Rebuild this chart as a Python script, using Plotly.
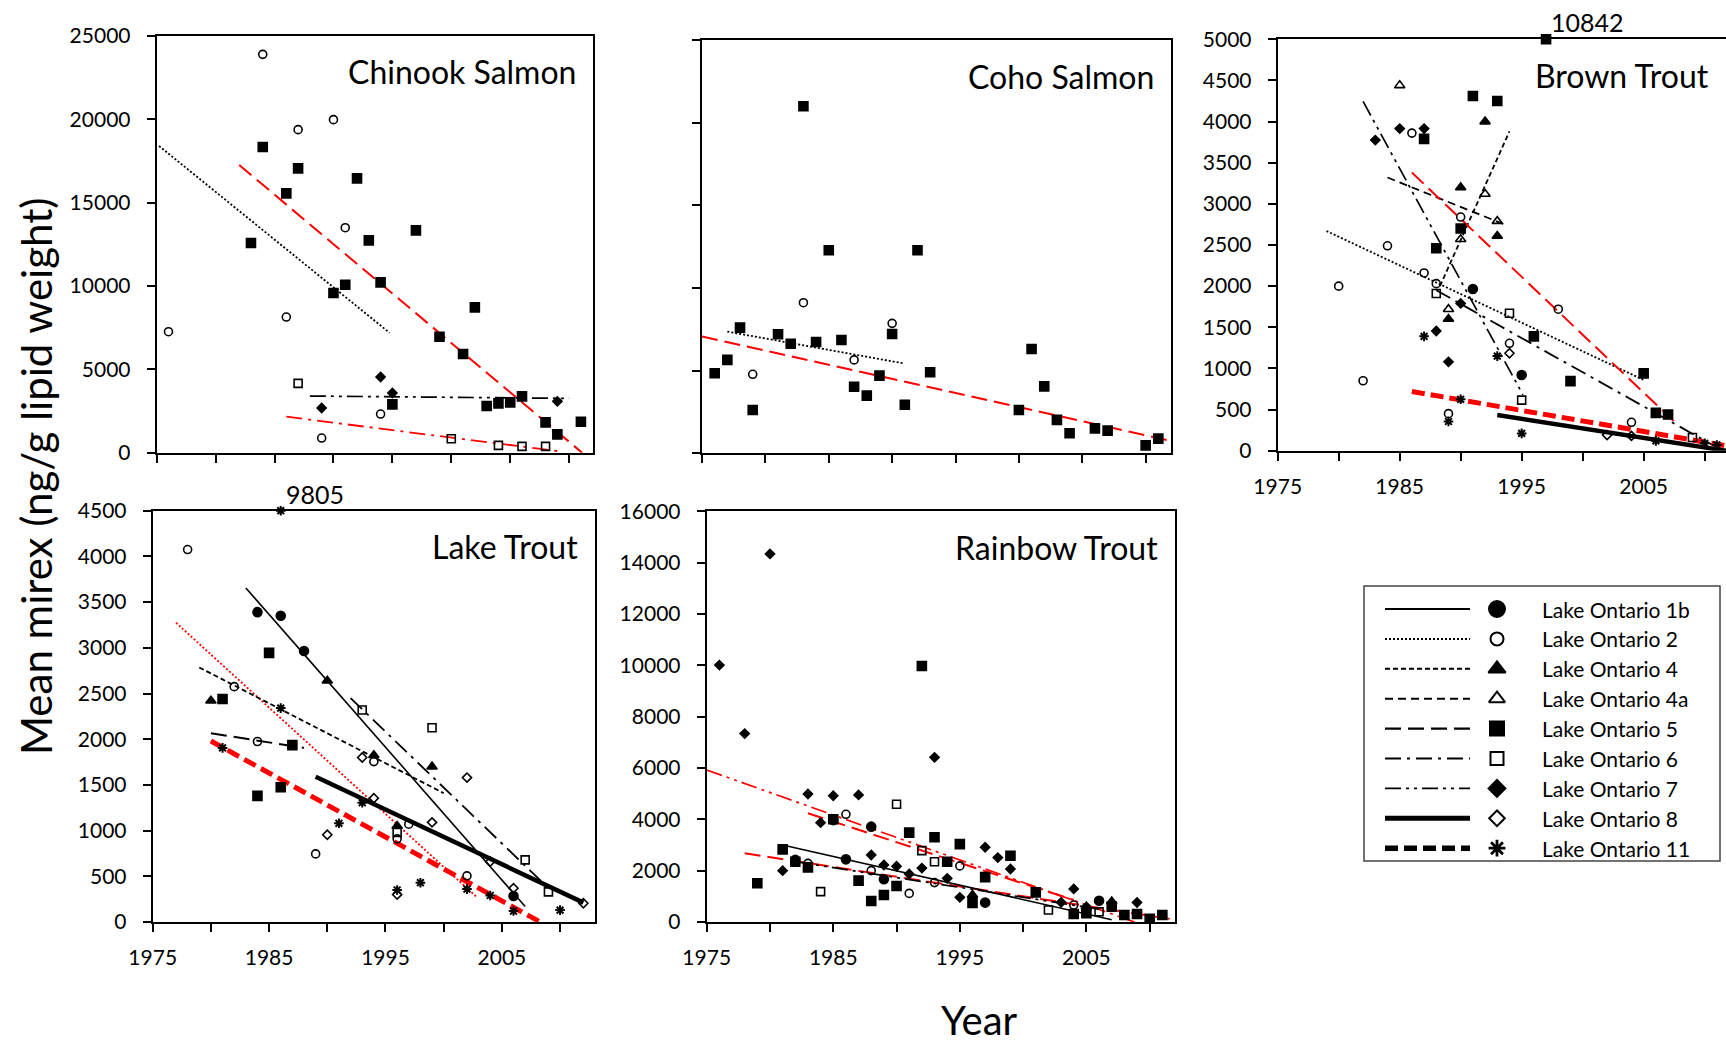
import plotly.graph_objects as go

W, H = 1726, 1045

# ------------------------------------------------------------------ data
years_ticks = list(range(1975, 2011, 5))

# Chinook Salmon
chinook_lo2_x = [1976, 1984, 1986, 1987, 1989, 1990, 1991, 1994]
chinook_lo2_y = [7260, 23900, 8140, 19380, 880, 19980, 13500, 2320]
chinook_lo5_x = [1983, 1984, 1986, 1987, 1990, 1991, 1992, 1993, 1994, 1995, 1997, 1999, 2001, 2002, 2003, 2004, 2005, 2006, 2008, 2009, 2011]
chinook_lo5_y = [12580, 18340, 15560, 17060, 9580, 10080, 16460, 12740, 10220, 2900, 13340, 6960, 5920, 8720, 2800, 2960, 3020, 3380, 1820, 1100, 1860]
chinook_lo6_x = [1987, 2000, 2004, 2006, 2008]
chinook_lo6_y = [4160, 840, 440, 380, 380]
chinook_lo7_x = [1989, 1994, 1995, 2009]
chinook_lo7_y = [2680, 4540, 3580, 3080]
chinook_trend_lo2 = ([1975.2, 1994.75], [18400, 7200])
chinook_trend_lo5 = ([1982, 2011.1], [17260, 0])
chinook_trend_lo7 = ([1988, 2010], [3400, 3260])
chinook_trend_lo6 = ([1986, 2009], [2160, 100])

# Coho Salmon
coho_lo5_x = [1976, 1977, 1978, 1979, 1981, 1982, 1983, 1984, 1985, 1986, 1987, 1988, 1989, 1990, 1991, 1992, 1993, 2000, 2001, 2002, 2003, 2004, 2006, 2007, 2010, 2011]
coho_lo5_y = [4840, 5650, 7600, 2620, 7200, 6630, 20990, 6730, 12280, 6850, 4030, 3490, 4700, 7220, 2940, 12280, 4900, 2620, 6310, 4050, 2020, 1210, 1510, 1370, 480, 890]
coho_lo2_x = [1979, 1983, 1987, 1990]
coho_lo2_y = [4780, 9110, 5650, 7860]
coho_trend_lo2 = ([1977, 1990.9], [7360, 5440])
coho_trend_lo5 = ([1975, 2012], [7060, 750])

# Brown Trout
brown_lo1b_x = [1991, 1995]
brown_lo1b_y = [1965, 920]
brown_lo2_x = [1980, 1982, 1984, 1986, 1987, 1988, 1989, 1990, 1994, 1998, 2004]
brown_lo2_y = [2000, 850, 2490, 3860, 2160, 2030, 450, 2840, 1305, 1720, 345]
brown_lo4_x = [1989, 1990, 1992, 1993]
brown_lo4_y = [1600, 3200, 4000, 2610]
brown_lo4a_x = [1985, 1989, 1990, 1992, 1993]
brown_lo4a_y = [4440, 1720, 2570, 3120, 2790]
brown_lo5_x = [1987, 1988, 1990, 1991, 1993, 1996, 1997, 1999, 2005, 2006, 2007]
brown_lo5_y = [3790, 2460, 2700, 4310, 4250, 1390, 10842, 845, 940, 460, 440]
brown_lo6_x = [1988, 1994, 1995, 2009]
brown_lo6_y = [1910, 1670, 615, 160]
brown_lo7_x = [1983, 1985, 1987, 1988, 1989, 1990]
brown_lo7_y = [3775, 3915, 3915, 1455, 1080, 1790]
brown_lo8_x = [1994, 2002, 2004, 2012]
brown_lo8_y = [1185, 190, 180, 130]
brown_lo11_x = [1987, 1989, 1990, 1993, 1995, 2006, 2010, 2011]
brown_lo11_y = [1390, 355, 625, 1150, 210, 120, 90, 70]
brown_trend_lo2 = ([1979, 2005], [2670, 860])
brown_trend_lo4 = ([1988.3, 1994], [2000, 3880])
brown_trend_lo4a = ([1984, 1993.5], [3320, 2755])
brown_trend_lo5 = ([1986, 2007.6], [3380, 340])
brown_trend_lo6 = ([1988, 2011], [1950, 40])
brown_trend_lo7 = ([1982, 1995.1], [4245, 680])
brown_trend_lo8 = ([1993, 2011.75], [434, 0])
brown_trend_lo11 = ([1986, 2011.75], [720, 60])

# Lake Trout
lake_lo1b_x = [1984, 1986, 1988, 2006]
lake_lo1b_y = [3390, 3350, 2965, 285]
lake_lo2_x = [1978, 1982, 1984, 1989, 1994, 1996, 1997, 2002]
lake_lo2_y = [4075, 2575, 1975, 745, 1755, 910, 1070, 505]
lake_lo4_x = [1980, 1990, 1994, 1996, 1999]
lake_lo4_y = [2420, 2640, 1825, 1050, 1700]
lake_lo5_x = [1981, 1984, 1985, 1986, 1987]
lake_lo5_y = [2440, 1380, 2945, 1475, 1935]
lake_lo6_x = [1993, 1996, 1999, 2007, 2009]
lake_lo6_y = [2320, 980, 2125, 680, 330]
lake_lo8_x = [1990, 1993, 1994, 1996, 1999, 2002, 2004, 2006, 2012]
lake_lo8_y = [955, 1800, 1355, 300, 1090, 1580, 660, 370, 205]
lake_lo11_x = [1981, 1986, 1986, 1991, 1993, 1996, 1998, 2002, 2004, 2006, 2010]
lake_lo11_y = [1905, 2340, 9805, 1080, 1305, 350, 430, 360, 290, 120, 130]
lake_trend_lo1b = ([1983, 2007], [3655, 170])
lake_trend_lo2 = ([1977, 2002.8], [3275, 277])
lake_trend_lo4 = ([1979, 2000], [2785, 1410])
lake_trend_lo5 = ([1980, 1988], [2065, 1905])
lake_trend_lo6 = ([1992, 2009], [2450, 370])
lake_trend_lo8 = ([1989, 2012], [1590, 212])
lake_trend_lo11 = ([1980, 2008.3], [1980, 0])

# Rainbow Trout
rainbow_lo1b_x = [1982, 1985, 1986, 1988, 1989, 1997, 2005, 2006]
rainbow_lo1b_y = [2420, 3970, 2440, 3715, 1665, 755, 530, 830]
rainbow_lo2_x = [1983, 1986, 1988, 1991, 1993, 1995, 2004]
rainbow_lo2_y = [2285, 4195, 2000, 1115, 1535, 2185, 660]
rainbow_lo4_x = [1996, 2005, 2007]
rainbow_lo4_y = [1050, 600, 800]
rainbow_lo5_x = [1979, 1981, 1982, 1983, 1985, 1987, 1988, 1989, 1990, 1991, 1992, 1993, 1994, 1995, 1996, 1997, 1999, 2001, 2004, 2005, 2007, 2008, 2009, 2010, 2011]
rainbow_lo5_y = [1510, 2830, 2350, 2130, 4000, 1610, 820, 1050, 1405, 3480, 9975, 3300, 2350, 3035, 745, 1750, 2580, 1155, 310, 340, 600, 275, 310, 120, 275]
rainbow_lo6_x = [1984, 1990, 1992, 1993, 2002, 2006]
rainbow_lo6_y = [1185, 4585, 2780, 2350, 470, 400]
rainbow_lo7_x = [1976, 1978, 1980, 1981, 1983, 1984, 1985, 1987, 1988, 1989, 1990, 1991, 1992, 1993, 1994, 1995, 1997, 1998, 1999, 2003, 2004, 2009]
rainbow_lo7_y = [10010, 7340, 14340, 2000, 4985, 3870, 4920, 4950, 2610, 2220, 2170, 1870, 2100, 6415, 1700, 960, 2910, 2510, 2065, 765, 1290, 760]
rainbow_trend_lo7_red = ([1975, 2008.8], [5920, 0])
rainbow_trend_lo5_red = ([1983, 2004], [4235, 855])
rainbow_trend_low_red = ([1978, 2012], [2675, 90])
rainbow_trend_lo1b = ([1981, 2007], [3000, 90])
rainbow_trend_lo7 = ([1982, 2006], [2350, 500])

legend_names = ["Lake Ontario 1b", "Lake Ontario 2", "Lake Ontario 4", "Lake Ontario 4a",
                "Lake Ontario 5", "Lake Ontario 6", "Lake Ontario 7", "Lake Ontario 8",
                "Lake Ontario 11"]
legend_keys = ["lo1b", "lo2", "lo4", "lo4a", "lo5", "lo6", "lo7", "lo8", "lo11"]

# ------------------------------------------------------------------ styles
FONT = "Lato"
RED = "#FF0000"
SYMBOL = {"lo1b": "circle", "lo2": "circle-open", "lo4": "triangle-up",
          "lo4a": "triangle-up-open", "lo5": "square", "lo6": "square-open",
          "lo7": "diamond", "lo8": "diamond-open", "lo11": "asterisk-open"}
MSIZE = {"lo1b": 9, "lo2": 8, "lo4": 9, "lo4a": 9, "lo5": 9, "lo6": 8,
         "lo7": 7, "lo8": 7, "lo11": 8}
DASH = {"lo1b": "solid", "lo2": "2px,2px", "lo4": "5px,3px", "lo4a": "8px,5px",
        "lo5": "16px,7px", "lo6": "16px,6px,3px,6px",
        "lo7": "16px,5px,3px,5px,3px,5px", "lo8": "solid", "lo11": "13px,6px"}
LW = {"lo1b": 1.6, "lo2": 1.8, "lo4": 1.8, "lo4a": 1.8, "lo5": 2.0, "lo6": 1.8,
      "lo7": 1.7, "lo8": 4.5, "lo11": 5}


def px2x(px):
    return px / W


def px2y(py):
    return 1 - py / H


panels = [
    dict(name="Chinook Salmon", ax="", xd=(156.7, 592.7), yd=(36, 452.7), xr=(1975, 2012), yr=(0, 25000), dy=5000, ylab=True, xlab=False),
    dict(name="Coho Salmon", ax="2", xd=(702, 1171), yd=(40, 453.3), xr=(1975, 2012), yr=(0, 25000), dy=5000, ylab=False, xlab=False),
    dict(name="Brown Trout", ax="3", xd=(1277.7, 1726), yd=(39.3, 450.7), xr=(1975, 2011.75), yr=(0, 5000), dy=500, ylab=True, xlab=True),
    dict(name="Lake Trout", ax="4", xd=(152.7, 595), yd=(510.7, 922), xr=(1975, 2013), yr=(0, 4500), dy=500, ylab=True, xlab=True),
    dict(name="Rainbow Trout", ax="5", xd=(706.7, 1175), yd=(511.3, 922), xr=(1975, 2012), yr=(0, 16000), dy=2000, ylab=True, xlab=True),
]

fig = go.Figure()
layout = dict(width=W, height=H, margin=dict(l=0, r=0, t=0, b=0, pad=0, autoexpand=False),
              paper_bgcolor="white", plot_bgcolor="white", showlegend=False,
              font=dict(family=FONT, color="black"))
annotations = []
shapes = []

for p in panels:
    xa = "xaxis" + p["ax"]
    ya = "yaxis" + p["ax"]
    yt = [p["yr"][0] + i * p["dy"] for i in range(int((p["yr"][1] - p["yr"][0]) / p["dy"]) + 1)]
    layout[xa] = dict(domain=[px2x(p["xd"][0]), px2x(p["xd"][1])], range=list(p["xr"]),
                      anchor="y" + p["ax"], showline=True, linecolor="black", linewidth=2,
                      mirror=True, ticks="outside", ticklen=8, tickwidth=2, tickcolor="black",
                      tickvals=years_ticks, automargin=False,
                      ticktext=[str(y) if y % 10 == 5 else "" for y in years_ticks],
                      showticklabels=p["xlab"], showgrid=False, zeroline=False,
                      tickfont=dict(family=FONT, size=21, color="black"), ticklabelstandoff=8)
    layout[ya] = dict(domain=[px2y(p["yd"][1]), px2y(p["yd"][0])], range=list(p["yr"]),
                      anchor="x" + p["ax"], showline=True, linecolor="black", linewidth=2,
                      mirror=(p["ax"] != "3"), ticks="outside", ticklen=8, tickwidth=2,
                      tickcolor="black", tickvals=yt, tickformat="d", automargin=False,
                      showticklabels=p["ylab"], showgrid=False, zeroline=False,
                      tickfont=dict(family=FONT, size=21, color="black"), ticklabelstandoff=12)
    annotations.append(dict(text=p["name"], xref="paper", yref="paper",
                            x=px2x(p["xd"][1] - 15), y=px2y(p["yd"][0] + 36),
                            xanchor="right", yanchor="middle", showarrow=False,
                            font=dict(family=FONT, size=32, color="black")))

g = globals()


def add_trend(ax, data, style, color="black"):
    fig.add_trace(go.Scatter(x=data[0], y=data[1], mode="lines", xaxis="x" + ax, yaxis="y" + ax,
                             line=dict(color=color, width=LW[style], dash=DASH[style]),
                             hoverinfo="skip"))


def add_points(prefix, ax, key, ymax):
    xs = g[prefix + "_" + key + "_x"]
    ys = g[prefix + "_" + key + "_y"]
    yplot = [min(v, ymax) for v in ys]
    fig.add_trace(go.Scatter(x=xs, y=yplot, mode="markers", xaxis="x" + ax, yaxis="y" + ax,
                             marker=dict(symbol=SYMBOL[key], size=MSIZE[key], color="black",
                                         line=dict(color="black", width=2 if key == "lo11" else 1.6)),
                             cliponaxis=False if any(v > ymax for v in ys) else True))
    for xv, v in zip(xs, ys):
        if v > ymax:
            annotations.append(dict(text=str(v), x=xv, y=ymax, xref="x" + ax, yref="y" + ax,
                                    xanchor="left", yanchor="bottom", xshift=3, yshift=0,
                                    showarrow=False, font=dict(family=FONT, size=25, color="black")))


# Chinook
add_trend("", chinook_trend_lo2, "lo2")
add_trend("", chinook_trend_lo5, "lo5", RED)
add_trend("", chinook_trend_lo7, "lo7")
add_trend("", chinook_trend_lo6, "lo6", RED)
for k in ["lo2", "lo5", "lo6", "lo7"]:
    add_points("chinook", "", k, 25000)

# Coho
add_trend("2", coho_trend_lo2, "lo2")
add_trend("2", coho_trend_lo5, "lo5", RED)
for k in ["lo5", "lo2"]:
    add_points("coho", "2", k, 25000)

# Brown
add_trend("3", brown_trend_lo2, "lo2")
add_trend("3", brown_trend_lo4, "lo4")
add_trend("3", brown_trend_lo4a, "lo4a")
add_trend("3", brown_trend_lo5, "lo5", RED)
add_trend("3", brown_trend_lo6, "lo6")
add_trend("3", brown_trend_lo7, "lo7")
add_trend("3", brown_trend_lo8, "lo8")
add_trend("3", brown_trend_lo11, "lo11", RED)
for k in ["lo1b", "lo2", "lo4", "lo4a", "lo5", "lo6", "lo7", "lo8", "lo11"]:
    add_points("brown", "3", k, 5000)

# Lake
add_trend("4", lake_trend_lo1b, "lo1b")
add_trend("4", lake_trend_lo2, "lo2", RED)
add_trend("4", lake_trend_lo4, "lo4")
add_trend("4", lake_trend_lo5, "lo5")
add_trend("4", lake_trend_lo6, "lo6")
add_trend("4", lake_trend_lo8, "lo8")
add_trend("4", lake_trend_lo11, "lo11", RED)
for k in ["lo1b", "lo2", "lo4", "lo5", "lo6", "lo8", "lo11"]:
    add_points("lake", "4", k, 4500)

# Rainbow
add_trend("5", rainbow_trend_lo7_red, "lo7", RED)
add_trend("5", rainbow_trend_lo5_red, "lo5", RED)
add_trend("5", rainbow_trend_low_red, "lo5", RED)
add_trend("5", rainbow_trend_lo1b, "lo1b")
add_trend("5", rainbow_trend_lo7, "lo7")
for k in ["lo1b", "lo2", "lo4", "lo5", "lo6", "lo7"]:
    add_points("rainbow", "5", k, 16000)

# ------------------------------------------------------------------ legend (drawn in its own axes)
LBOX = (1364, 586, 1720, 861)
layout["xaxis6"] = dict(domain=[px2x(LBOX[0]), px2x(LBOX[2])], range=[0, LBOX[2] - LBOX[0]],
                        anchor="y6", visible=False, fixedrange=True, automargin=False)
layout["yaxis6"] = dict(domain=[px2y(LBOX[3]), px2y(LBOX[1])], range=[LBOX[3] - LBOX[1], 0],
                        anchor="x6", visible=False, fixedrange=True, automargin=False)
shapes.append(dict(type="rect", xref="paper", yref="paper", x0=px2x(LBOX[0]), x1=px2x(LBOX[2]),
                   y0=px2y(LBOX[3]), y1=px2y(LBOX[1]), line=dict(color="#444", width=1.5)))
LEG_SIZE = {"lo1b": 16, "lo2": 13, "lo4": 15, "lo4a": 14, "lo5": 14, "lo6": 13,
            "lo7": 13, "lo8": 12, "lo11": 14}
for i, (key, name) in enumerate(zip(legend_keys, legend_names)):
    yy = 23 + i * 29.9
    fig.add_trace(go.Scatter(x=[21, 106], y=[yy, yy], mode="lines", xaxis="x6", yaxis="y6",
                             line=dict(color="black", width=LW[key] + (0.6 if key in ("lo8", "lo11") else 0.2),
                                       dash=DASH[key]), hoverinfo="skip"))
    fig.add_trace(go.Scatter(x=[133], y=[yy], mode="markers", xaxis="x6", yaxis="y6",
                             marker=dict(symbol=SYMBOL[key], size=LEG_SIZE[key], color="black",
                                         line=dict(color="black", width=2.8 if key == "lo11" else 2)),
                             hoverinfo="skip"))
    annotations.append(dict(text=name, x=176, y=yy, xref="x6", yref="y6", xanchor="left",
                            yanchor="middle", showarrow=False,
                            font=dict(family=FONT, size=21, color="black")))

# ------------------------------------------------------------------ axis titles
annotations.append(dict(text="Mean mirex (ng/g lipid weight)", xref="paper", yref="paper",
                        x=px2x(36), y=px2y(477), textangle=-90, showarrow=False,
                        xanchor="center", yanchor="middle",
                        font=dict(family=FONT, size=42, color="black")))
annotations.append(dict(text="Year", xref="paper", yref="paper", x=px2x(980), y=px2y(1020),
                        showarrow=False, xanchor="center", yanchor="middle",
                        font=dict(family=FONT, size=40, color="black")))

layout["annotations"] = annotations
layout["shapes"] = shapes
fig.update_layout(**layout)
fig.write_html("out.html")
